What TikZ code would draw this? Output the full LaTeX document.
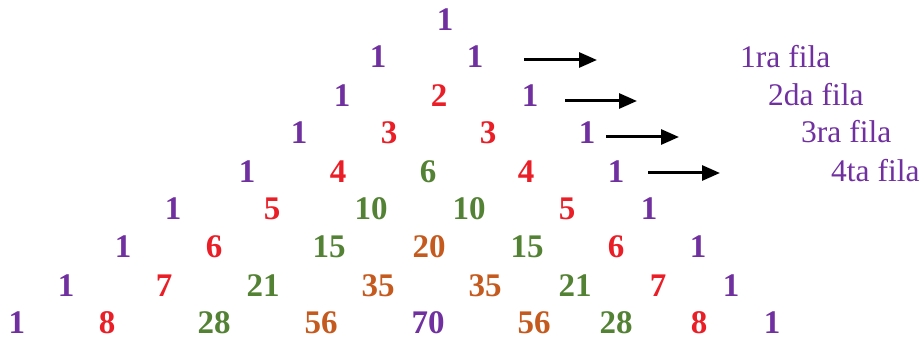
\documentclass[tikz,border=0pt]{standalone}
\usepackage{fontspec}
\setmainfont{Liberation Serif}
\usetikzlibrary{arrows.meta}
\definecolor{morado}{RGB}{112,48,160}
\definecolor{rojo}{RGB}{234,30,38}
\definecolor{verde}{RGB}{84,130,53}
\definecolor{naranja}{RGB}{197,90,30}
\begin{document}
\begin{tikzpicture}[x=1pt,y=-1pt,
	num/.style={anchor=base,inner sep=0pt,font=\bfseries\fontsize{33}{38}\selectfont},
	mo/.style={num,text=morado},
	ro/.style={num,text=rojo},
	ve/.style={num,text=verde},
	na/.style={num,text=naranja},
	fila/.style={anchor=base west,inner sep=0pt,text=morado,font=\fontsize{31.5}{36}\selectfont},
	flecha/.style={line width=3pt,-{Triangle[length=18pt,width=15pt]}}]
	\useasboundingbox (0,0) rectangle (924,339);
	% fila 0
	\node[mo] (a0) at (445,31) {1};
	% fila 1
	\node[mo] (b0) at (378,68) {1};
	\node[mo] (b1) at (475,68) {1};
	% fila 2
	\node[mo] (c0) at (342,107) {1};
	\node[ro] (c1) at (439,107) {2};
	\node[mo] (c2) at (530,107) {1};
	% fila 3
	\node[mo] (d0) at (299,144) {1};
	\node[ro] (d1) at (389,144) {3};
	\node[ro] (d2) at (488,144) {3};
	\node[mo] (d3) at (587,144) {1};
	% fila 4
	\node[mo] (e0) at (247,183) {1};
	\node[ro] (e1) at (338,183) {4};
	\node[ve] (e2) at (428,183) {6};
	\node[ro] (e3) at (526,183) {4};
	\node[mo] (e4) at (616,183) {1};
	% fila 5
	\node[mo] (f0) at (173,220) {1};
	\node[ro] (f1) at (272,220) {5};
	\node[ve] (f2) at (371,220) {10};
	\node[ve] (f3) at (469,220) {10};
	\node[ro] (f4) at (567,220) {5};
	\node[mo] (f5) at (649,220) {1};
	% fila 6
	\node[mo] (g0) at (123,258) {1};
	\node[ro] (g1) at (214,258) {6};
	\node[ve] (g2) at (329,258) {15};
	\node[na] (g3) at (429,258) {20};
	\node[ve] (g4) at (527,258) {15};
	\node[ro] (g5) at (616,258) {6};
	\node[mo] (g6) at (698,258) {1};
	% fila 7
	\node[mo] (h0) at (66,296) {1};
	\node[ro] (h1) at (164,296) {7};
	\node[ve] (h2) at (263,296) {21};
	\node[na] (h3) at (378,296) {35};
	\node[na] (h4) at (485,296) {35};
	\node[ve] (h5) at (575,296) {21};
	\node[ro] (h6) at (658,296) {7};
	\node[mo] (h7) at (731,296) {1};
	% fila 8
	\node[mo] (i0) at (17,333) {1};
	\node[ro] (i1) at (107,333) {8};
	\node[ve] (i2) at (214,333) {28};
	\node[na] (i3) at (321,333) {56};
	\node[mo] (i4) at (428,333) {70};
	\node[na] (i5) at (534,333) {56};
	\node[ve] (i6) at (616,333) {28};
	\node[ro] (i7) at (699,333) {8};
	\node[mo] (i8) at (772,333) {1};
	% etiquetas
	\node[fila] (l1) at (740,68) {1ra fila};
	\node[fila] (l2) at (768,106) {2da fila};
	\node[fila] (l3) at (801,143) {3ra fila};
	\node[fila] (l4) at (831,182) {4ta fila};
	% flechas
	\coordinate (s1) at (524,60);
	\coordinate (t1) at (597,60);
	\coordinate (s2) at (565,101);
	\coordinate (t2) at (637,101);
	\coordinate (s3) at (606,137);
	\coordinate (t3) at (679,137);
	\coordinate (s4) at (648,173);
	\coordinate (t4) at (720,173);
	\draw[flecha] (s1) -- (t1);
	\draw[flecha] (s2) -- (t2);
	\draw[flecha] (s3) -- (t3);
	\draw[flecha] (s4) -- (t4);
\end{tikzpicture}
\end{document}
